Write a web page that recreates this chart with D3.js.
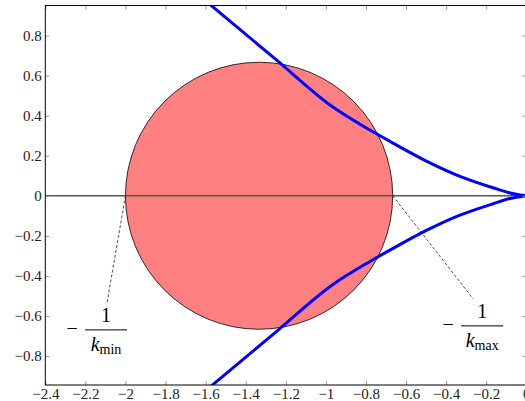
<!DOCTYPE html>
<html>
<head>
<meta charset="utf-8">
<script src="https://cdn.jsdelivr.net/npm/d3@7"></script>
<style>
  body { margin: 0; background: #fff; }
  svg { display: block; }
</style>
</head>
<body>
<div id="chart"></div>
<script>
// data
var xTicks = [-2.4, -2.2, -2, -1.8, -1.6, -1.4, -1.2, -1, -0.8, -0.6, -0.4, -0.2, 0];
var yTicks = [-0.8, -0.6, -0.4, -0.2, 0, 0.2, 0.4, 0.6, 0.8];

// nyquist curve, upper and lower branch
var nyqRe = [-1.7, -1.25, -0.965, -0.78, -0.665, -0.496, -0.331, -0.166, -0.081, 0];
var nyqImUpper = [1.057, 0.681, 0.443, 0.328, 0.263, 0.172, 0.097, 0.040, 0.014, 0];
var nyqImLower = [-1.057, -0.681, -0.443, -0.328, -0.263, -0.172, -0.097, -0.040, -0.014, 0];

// circle through -1/kmin and -1/kmax
var kMin = 0.5;
var kMax = 1.5;

// dashed pointers from the crossings to the labels
var labelAnchors = [
  { from: [-1 / kMin, 0], to: [-2.092, -0.535], name: "min" },
  { from: [-1 / kMax, 0], to: [-0.265, -0.515], name: "max" }
];

var serif = "Liberation Serif";

// svg vars
var svgWidth = 525;
var svgHeight = 401;

var margin = { top: 5.5, right: -1.3, bottom: 16, left: 45.3 };
var width = svgWidth - margin.left - margin.right;
var height = svgHeight - margin.top - margin.bottom;

var svg = d3.select("#chart")
  .append("svg")
  .attr("width", svgWidth)
  .attr("height", svgHeight)
  .attr("font-family", serif);

var chartGroup = svg.append("g")
  .attr("transform", `translate(${margin.left}, ${margin.top})`);

var x = d3.scaleLinear().domain([-2.4, 0]).range([0, width]);
var y = d3.scaleLinear().domain([-0.945, 0.95]).range([height, 0]);

svg.append("defs").append("clipPath")
  .attr("id", "plotclip")
  .append("rect")
  .attr("width", width)
  .attr("height", height);

var plot = chartGroup.append("g").attr("clip-path", "url(#plotclip)");

// circle
var cRe = (-1 / kMin + -1 / kMax) / 2;
var cR = (1 / kMin - 1 / kMax) / 2;
plot.append("ellipse")
  .attr("cx", x(cRe))
  .attr("cy", y(0))
  .attr("rx", x(cRe + cR) - x(cRe))
  .attr("ry", y(0) - y(cR))
  .attr("fill", "#ff8080")
  .attr("stroke", "black")
  .attr("stroke-width", 0.8);

// real axis
plot.append("line")
  .attr("x1", 0)
  .attr("x2", width)
  .attr("y1", y(0))
  .attr("y2", y(0))
  .attr("stroke", "#555")
  .attr("stroke-width", 1.3);

// dashed pointers
plot.selectAll("line.pointer")
  .data(labelAnchors)
  .enter()
  .append("line")
  .attr("class", "pointer")
  .attr("x1", d => x(d.from[0]))
  .attr("y1", d => y(d.from[1]))
  .attr("x2", d => x(d.to[0]))
  .attr("y2", d => y(d.to[1]))
  .attr("stroke", "black")
  .attr("stroke-width", 0.7)
  .attr("stroke-dasharray", "3,2");

// nyquist branches
var line = d3.line()
  .x(d => x(d[0]))
  .y(d => y(d[1]))
  .curve(d3.curveMonotoneX);

[nyqImUpper, nyqImLower].forEach(function(im) {
  plot.append("path")
    .datum(nyqRe.map((r, i) => [r, im[i]]))
    .attr("d", line)
    .attr("fill", "none")
    .attr("stroke", "#0000ff")
    .attr("stroke-width", 3)
    .attr("stroke-linejoin", "round");
});

// axes, ticks inward
var fmt = d3.format("~f");

var bottomAxis = chartGroup.append("g")
  .attr("transform", `translate(0, ${height})`)
  .call(d3.axisBottom(x).tickValues(xTicks).tickSize(-4).tickPadding(3).tickFormat(fmt));
var leftAxis = chartGroup.append("g")
  .call(d3.axisLeft(y).tickValues(yTicks).tickSize(-4).tickPadding(3.5).tickFormat(fmt));
var topAxis = chartGroup.append("g")
  .call(d3.axisTop(x).tickValues(xTicks).tickSize(-4).tickFormat(""));
var rightAxis = chartGroup.append("g")
  .attr("transform", `translate(${width}, 0)`)
  .call(d3.axisRight(y).tickValues(yTicks).tickSize(-4).tickFormat(""));

[bottomAxis, leftAxis, topAxis, rightAxis].forEach(function(ax) {
  ax.attr("font-family", serif).attr("font-size", 15);
  ax.select(".domain").remove();
  ax.selectAll(".tick line").attr("stroke", "#999");
  ax.selectAll(".tick text")
    .attr("fill", "#222")
    .attr("font-family", serif)
    .attr("font-size", 15);
});

// frame
chartGroup.append("rect")
  .attr("width", width)
  .attr("height", height)
  .attr("fill", "none")
  .attr("stroke", "black")
  .attr("stroke-width", 1);

// -1/k labels
var labels = chartGroup.selectAll("g.klabel")
  .data(labelAnchors)
  .enter()
  .append("g")
  .attr("class", "klabel")
  .attr("font-family", serif)
  .attr("transform", d => `translate(${x(d.to[0]) + (d.name == "min" ? -1 : 9)}, ${y(d.to[1])})`);

labels.append("text")
  .attr("x", -34)
  .attr("y", 32)
  .attr("text-anchor", "middle")
  .attr("font-size", 20)
  .text("\u2212");

labels.append("text")
  .attr("x", 0)
  .attr("y", 19)
  .attr("text-anchor", "middle")
  .attr("font-size", 20)
  .text("1");

labels.append("line")
  .attr("x1", -21)
  .attr("x2", 21)
  .attr("y1", 27)
  .attr("y2", 27)
  .attr("stroke", "black")
  .attr("stroke-width", 1);

var kText = labels.append("text")
  .attr("x", 0)
  .attr("y", 48)
  .attr("text-anchor", "middle");
kText.append("tspan")
  .attr("font-size", 20)
  .attr("font-style", "italic")
  .text("k");
kText.append("tspan")
  .attr("dy", 3)
  .attr("font-size", 14)
  .text(d => d.name);
</script>
</body>
</html>
